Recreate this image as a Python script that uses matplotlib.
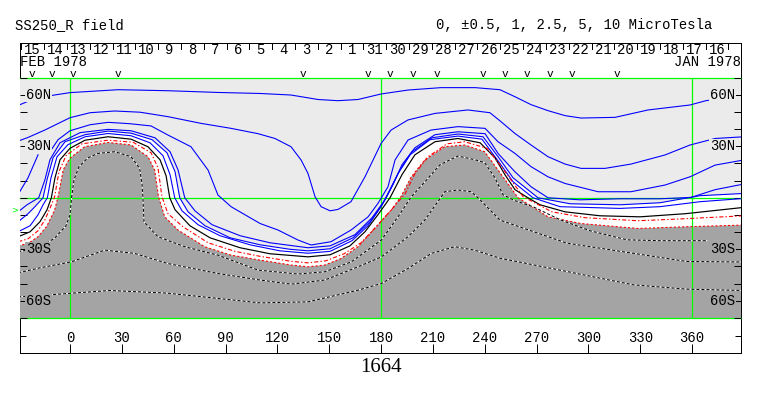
import numpy as np
import matplotlib
matplotlib.use("Agg")
import matplotlib.pyplot as plt
from matplotlib.transforms import blended_transform_factory as btf

plt.rcParams['lines.scale_dashes'] = False

# ---------------- data ----------------
title_left = "SS250_R field"
title_right = "0, \u00b10.5, 1, 2.5, 5, 10 MicroTesla"
rotation = "1664"
lon_ticks = [0, 30, 60, 90, 120, 150, 180, 210, 240, 270, 300, 330, 360]
lat_ticks = list(range(-70, 71, 10))
lat_labels = {60: "60N", 30: "30N", -30: "30S", -60: "60S"}
day_labels = [16, 17, 18, 19, 20, 21, 22, 23, 24, 25, 26, 27, 28, 29, 30, 31,
              1, 2, 3, 4, 5, 6, 7, 8, 9, 10, 11, 12, 13, 14, 15]
day_centres = [374.4, 361.2, 348.0, 334.8, 321.6, 308.4, 295.2, 282.0, 268.8,
               255.6, 242.4, 229.2, 216.0, 202.8, 189.6, 176.4, 163.2, 150.0,
               136.8, 123.6, 110.4, 97.2, 84.0, 70.8, 57.6, 44.4, 31.2, 18.0,
               4.8, -8.4, -21.6]
obs_marks = [-22.2, -10.6, 1.9, 28.0, 135.0, 172.6, 185.2, 198.5, 212.2,
             239.2, 251.7, 264.3, 277.8, 290.3, 316.4]
earth_lat = -7
green_lons = [0, 180, 360]
green_lats = [70, 0, -70]

line1 = [(-28.9, 54.2), (-24.9, 55.9), (-11.6, 59.4), (0, 61.2), (27.8, 62.9), (56.7, 62.3),
         (85.6, 61.3), (110, 60.7), (127.9, 59.8), (143.5, 57.2), (155.1, 56.5), (166.7, 57.2),
         (180, 60.4), (195.6, 62.7), (214.7, 64.1), (234.4, 64.1), (248.8, 62.9), (257.5, 58.8),
         (266.8, 54.2), (276.6, 50.7), (286.5, 47.8), (295.7, 46.4), (315.4, 46.8), (334.5, 51.1),
         (358.8, 54.0), (368, 56.5), (372, 57.1)]
line2 = [(-30, 33.0), (-24.3, 35.1), (-14.6, 39.4), (0, 46.6), (11.6, 49.5), (25.9, 50.5),
         (40.5, 49.8), (56.7, 47.2), (75.8, 43.3), (93.2, 40.4), (108.8, 37.3), (118.6, 34.5),
         (127.9, 29.7), (133.7, 22.0), (137.7, 14.2), (141.8, 0.6), (145.3, -5.2), (150.5, -7.6),
         (155.1, -6.8), (162.6, -2.3), (170.7, 12.2), (180, 31.6), (185.8, 39.4), (195.6, 45.3),
         (211.2, 49.1), (230.3, 51.1), (243, 49.5), (248.8, 44.8), (257.5, 37.4), (266.8, 30.7),
         (276.6, 23.9), (286.5, 19.6), (295.7, 17.1), (309.6, 17.1), (324.6, 19.6), (344.3, 24.9),
         (358.8, 30.7), (373.3, 34.5), (390, 35.5)]
line3a = [(-30, 2.0), (-24.3, 11.6), (-18.5, 25.0)]
line3 = [(-11.6, 26.8), (-6.9, 33.8), (0, 39.0), (11.6, 42.5), (22, 43.9), (34.7, 43.1),
         (46.9, 41.8), (56.7, 36.5), (70, 29.7), (79.9, 16.1), (85.6, 1.6), (93.2, -5.2),
         (110, -15.0), (120.4, -18.8), (131.9, -24.6), (139.5, -27.5), (151, -25.6), (162.6, -18.8),
         (172.5, -11.1), (178.2, -3.3), (184, 6.4), (188.1, 22.0), (195.6, 33.6), (208.9, 39.4),
         (224.5, 41.4), (240.2, 40.4), (247.7, 32.6), (257.5, 25.8), (266.8, 18.1), (276.6, 12.2),
         (286.5, 8.3), (305.6, 3.5), (324.6, 3.5), (344.3, 7.4), (358.8, 12.2), (373.3, 19.0),
         (390, 22.0)]
line4 = [(-30, -8.2), (-24.9, -4.1), (-18.1, 0), (-14.5, 10.5), (-11.6, 22.1), (-5.8, 32.0),
         (5.8, 37.9), (22.0, 39.8), (35.3, 39.0), (49.2, 34.9), (57.9, 26.8), (62.5, 16.3),
         (66.4, 0), (72.3, -7.6), (82.2, -15.7), (98.4, -22.1), (115.7, -26.2), (137.7, -29.1),
         (150.5, -28.0), (164.9, -21.5), (174.8, -11.6), (182.3, -1.2), (186.9, 7.6), (192.1, 19.2),
         (199.6, 29.1), (211.2, 36.7), (224.5, 38.4), (240.2, 37.3), (247.7, 25.8), (257.5, 15.1),
         (266.8, 6.4), (276.6, 0), (295.1, -1.2), (318.3, -0.6), (341.4, -0.6), (359.4, 0.2),
         (373.3, 4.7), (390, 8.0)]
line5 = [(-30, -14.0), (-24.3, -9.3), (-20.3, -5.2), (-15.6, 0), (-13.3, 10.5), (-9.8, 23.3),
         (-2.9, 32.6), (8.7, 36.7), (22.0, 38.8), (35.3, 37.6), (47.5, 33.8), (56.1, 26.2),
         (60.8, 15.1), (63.5, 0), (68.3, -8.2), (78.1, -16.3), (92.6, -23.3), (110, -27.4),
         (127.3, -30.0), (137.7, -30.9), (150.5, -29.7), (163.8, -23.3), (173.6, -14.0),
         (180.6, -4.1), (185.2, 4.7), (191.0, 16.3), (197.9, 26.8), (209.5, 34.9), (224.5, 37.1),
         (239.0, 35.5), (247.7, 23.9), (256.4, 11.6), (270.8, 0), (289.4, -3.5), (318.3, -4.1),
         (341.4, -2.9), (364.6, 1.2), (390, 2.5)]
line6 = [(-30, -19.8), (-23.1, -16.3), (-18.5, -9.9), (-15.6, -4.1), (-13.1, 0), (-11.0, 11.6),
         (-7.5, 23.9), (-1.2, 30.9), (8.7, 35.5), (22.0, 37.4), (35.3, 36.1), (46.3, 32.0),
         (53.8, 24.5), (57.9, 13.4), (60.6, 0), (64.8, -7.6), (74.1, -15.7), (86.8, -22.1),
         (104.2, -27.4), (121.5, -30.9), (137.7, -32.3), (150.5, -31.2), (163.2, -25.0),
         (172.5, -16.3), (180.0, -5.2), (182.9, 0), (189.8, 14.0), (196.8, 25.0), (208.3, 33.8),
         (224.5, 35.9), (238.4, 34.1), (247.7, 21.5), (256.4, 9.3), (267.9, 0), (283.6, -5.2),
         (318.3, -6.2), (341.4, -5.2), (364.6, -2.3), (390, -0.4)]
neutral = [(-30, -22.7), (-23.1, -19.8), (-17.4, -14.0), (-13.3, -7.0), (-10.8, 0), (-8.7, 11.6),
           (-5.8, 22.1), (0, 28.8), (8.7, 33.5), (22.0, 35.5), (35.3, 34.1), (45.1, 29.7),
           (52.1, 22.1), (55.6, 12.8), (57.7, 0), (60.8, -7.0), (69.4, -16.3), (81.0, -23.3),
           (98.4, -29.1), (115.7, -32.6), (137.7, -34.4), (150.5, -33.2), (162.0, -28.0),
           (170.7, -19.8), (178.2, -9.9), (185.2, 0), (192.1, 13.4), (199.6, 25.0), (211.2, 32.6),
           (224.5, 34.5), (237.3, 32.0), (245.9, 23.3), (251.7, 13.4), (257.5, 4.7), (265.0, 0),
           (272.0, -4.1), (286.5, -8.2), (306.7, -10.5), (329.9, -11.1), (355.9, -9.3),
           (390, -5.6)]
neg_half = [(-30, -25.6), (-24.3, -23.9), (-18.5, -19.2), (-14.5, -12.8), (-11.0, -4.7),
            (-8.9, 0.6), (-6.4, 15.1), (-2.3, 24.5), (6.9, 31.4), (22.0, 33.5), (36.5, 32.3),
            (46.9, 26.2), (50.9, 17.5), (53.2, 0.6), (56.7, -9.3), (65.4, -16.9), (79.9, -26.2),
            (95.5, -31.2), (110, -34.1), (127.9, -37.0), (137.7, -37.9), (148.1, -36.7),
            (158.6, -32.6), (168.4, -26.2), (177.7, -16.3), (187.5, -5.2), (193.9, 2.3),
            (199.6, 14.0), (207.2, 23.9), (218.2, 31.4), (228.4, 32.6), (241.3, 28.8),
            (249.9, 17.8), (262.2, 0.6), (278.9, -8.2), (298.0, -11.6), (328.7, -13.4),
            (355.9, -12.2), (390, -10.5)]
neg_one = [(-30, -28.0), (-24.3, -26.6), (-18.5, -22.7), (-13.5, -16.7), (-8.9, -7.2),
           (-6.9, 0.6), (-3.9, 16.3), (0, 23.1), (8.5, 29.7), (22.0, 32.2), (35.3, 30.7),
           (45.1, 23.9), (49.0, 16.1), (51.2, 0.6), (54.8, -11.1), (62.5, -18.8), (77.9, -28.5),
           (93.2, -33.4), (110, -36.3), (128.1, -39.2), (137.7, -40.2), (147.4, -39.2),
           (156.8, -35.4), (166.7, -28.5), (176.3, -17.9), (185.9, -7.2), (191.5, 0.6),
           (197.5, 12.2), (205.3, 22.0), (216.8, 29.7), (228.4, 30.7), (240.0, 26.8),
           (247.7, 16.1), (259.3, 0), (276.6, -11.1), (295.7, -15.0), (328.7, -17.9),
           (355.9, -16.9), (390, -15.9)]
neg_a = [(-30, -31.4), (-17.4, -29.1), (-8.7, -23.3), (-2.3, -16.3), (0, -9.9), (0.9, 0),
         (2.3, 10.5), (5.2, 18.1), (10.4, 23.3), (16.2, 25.8), (25.9, 26.8), (35.3, 23.9),
         (40.3, 17.1), (41.7, 7.6), (42.2, 0), (42.8, -14.0), (50.9, -22.7), (66.4, -28.5),
         (85.6, -33.4), (108.8, -42.1), (131.9, -44.4), (147.4, -43.1), (162.8, -37.3),
         (180.2, -24.6), (189.8, -11.1), (197.5, 0.6), (205.4, 9.3), (214.1, 19.2), (224.5, 24.3),
         (234.4, 22.1), (240.0, 20.4), (245.9, 11.6), (250.6, 1.7), (257.5, -1.7), (267.9, -5.2),
         (283.6, -12.8), (300.9, -19.2), (322.3, -24.5), (341.4, -25.0), (368.5, -25.0)]
neg_b = [(-30, -43.7), (-17.4, -40.8), (0.8, -37.3), (20.1, -30.5), (37.4, -32.4), (56.7, -38.3),
         (85.6, -44.1), (110, -47.9), (128.1, -50.3), (147.4, -47.9), (166.7, -40.2),
         (180.2, -34.4), (195.6, -22.7), (205.3, -13.0), (214.9, 0.6), (216.8, 3.5), (224.5, 4.5),
         (232.2, 3.5), (237.3, -1.2), (248.8, -13.0), (287.4, -26.4), (356.9, -37.1),
         (390, -37.4)]
neg_c = [(-30, -57.7), (-11.6, -56.5), (1.9, -55.5), (23.1, -54.0), (56.0, -55.5), (85.6, -58.6),
         (110, -61.2), (137.7, -60.6), (166.7, -53.8), (180.2, -49.9), (195.6, -41.2),
         (209.1, -32.4), (222.6, -28.5), (234.2, -30.5), (248.8, -35.2), (287.4, -42.9),
         (326.0, -50.7), (356.9, -53.2), (390, -54.0)]

# ---------------- colours / styles ----------------
BG_POS = "#ebebeb"
BG_NEG = "#a4a4a4"
BLUE = "#0000ff"
RED = "#ff0000"
GREEN = "#00ff00"
MONO = "Liberation Mono"
PX = 0.72

W, H = 763, 396
fig = plt.figure(figsize=(W / 100, H / 100), dpi=100)
fig.patch.set_facecolor("white")

xl = (-28.94, 388.3)
fa = fig.add_axes([20 / W, (H - 353) / H, 721 / W, 310 / H])
fa.set_xlim(*xl)
fa.set_ylim(0, 1)
fa.set_facecolor("white")
for s in fa.spines.values():
    s.set_linewidth(PX)
    s.set_color("black")
fa.set_xticks(lon_ticks)
fa.set_xticklabels([])
fa.tick_params(axis="x", direction="in", length=9 * PX, width=PX, bottom=True, top=False)
fa.set_yticks([(353 - 336) / 310])
fa.set_yticklabels([])
fa.tick_params(axis="y", direction="in", length=6 * PX, width=PX, left=True, right=True)

tb = btf(fa.transData, fa.transAxes)
for lo in lon_ticks:
    fa.text(lo, (353 - 338) / 310, str(lo), transform=tb, ha="center", va="center",
            fontsize=10, family=MONO)
fa.text(180, (353 - 367) / 310, rotation, transform=tb, ha="center", va="center",
        fontsize=15, family="Liberation Serif")

# top date strip
bounds = [c + 6.6 for c in day_centres] + [day_centres[-1] - 6.6]
for b in bounds:
    if xl[0] < b < xl[1]:
        fa.plot([b, b], [1.0, 1 - 6 / 310], transform=tb, color="black", lw=PX, clip_on=False)
for c, d in zip(day_centres, day_labels):
    fa.text(c, (353 - 49.5) / 310, str(d), transform=tb, ha="center", va="center",
            fontsize=10, family=MONO)
fa.text(0.0, (353 - 62.5) / 310, "FEB 1978", transform=fa.transAxes, ha="left", va="center",
        fontsize=10, family=MONO)
fa.text(1.0, (353 - 62.5) / 310, "JAN 1978", transform=fa.transAxes, ha="right", va="center",
        fontsize=10, family=MONO)
for m in obs_marks:
    fa.text(m, (353 - 74) / 310, "v", transform=tb, ha="center", va="center",
            fontsize=8, family=MONO)

fig.text(15 / W, (H - 25) / H, title_left, ha="left", va="center", fontsize=10, family=MONO)
fig.text(712 / W, (H - 25) / H, title_right, ha="right", va="center", fontsize=10, family=MONO)

# ---------------- main map ----------------
ax = fig.add_axes([20 / W, (H - 318) / H, 721 / W, 240.5 / H])
ax.set_xlim(*xl)
ax.set_ylim(-70, 70)
ax.set_facecolor(BG_POS)
for s in ax.spines.values():
    s.set_visible(False)
ax.set_xticks([])
ax.set_yticks(lat_ticks)
ax.set_yticklabels([])
ax.tick_params(axis="y", direction="in", length=7 * PX, width=PX, left=True, right=True)


def arr(p):
    return np.array(p, dtype=float)


n1 = arr(neg_one)
top = arr(line5)
wx = np.concatenate([top[:, 0], n1[::-1, 0]])
wy = np.concatenate([top[:, 1], n1[::-1, 1]])
ax.fill(wx, wy, color="white", lw=0, zorder=0.5)
gx = np.concatenate([n1[:, 0], [390, -30]])
gy = np.concatenate([n1[:, 1], [-80, -80]])
ax.fill(gx, gy, color=BG_NEG, lw=0, zorder=0.6)

for lo in green_lons:
    ax.axvline(lo, color=GREEN, lw=PX * 1.25, zorder=1)
for la in green_lats:
    ax.axhline(la, color=GREEN, lw=PX * 1.25, zorder=1, clip_on=False)

for ln in [line1, line2, line3a, line3, line4, line5, line6]:
    a = arr(ln)
    ax.plot(a[:, 0], a[:, 1], color=BLUE, lw=PX * 1.1, zorder=2)
a = arr(neutral)
ax.plot(a[:, 0], a[:, 1], color="black", lw=PX * 1.2, zorder=2)
a = arr(neg_half)
ax.plot(a[:, 0], a[:, 1], color=RED, lw=PX * 1.1, ls=(0, (3, 1.5, 1, 1.5)), zorder=2)
ax.plot(n1[:, 0], n1[:, 1], color=RED, lw=PX * 1.1, ls=(0, (1.5, 1.5)), zorder=2)
for ln in [neg_a, neg_b, neg_c]:
    a = arr(ln)
    ax.plot(a[:, 0], a[:, 1], color="white", lw=PX, zorder=2)
    ax.plot(a[:, 0], a[:, 1], color="black", lw=PX, ls=(0, (2.2, 1.4)), zorder=2.1)

# latitude labels
for la, txt in lat_labels.items():
    fc = BG_POS if la > 0 else BG_NEG
    ax.annotate(txt, xy=(0, la), xycoords=("axes fraction", "data"), xytext=(6 * PX, 0),
                textcoords="offset points", ha="left", va="center", fontsize=10, family=MONO,
                bbox=dict(boxstyle="square,pad=0.05", fc=fc, ec="none"), zorder=5)
    ax.annotate(txt, xy=(1, la), xycoords=("axes fraction", "data"), xytext=(-6 * PX, 0),
                textcoords="offset points", ha="right", va="center", fontsize=10, family=MONO,
                bbox=dict(boxstyle="square,pad=0.05", fc=fc, ec="none"), zorder=5)

ax.annotate(">", xy=(0, earth_lat), xycoords=("axes fraction", "data"), xytext=(-1, 0),
            textcoords="offset points", ha="right", va="center", fontsize=6, color=GREEN,
            annotation_clip=False)

fig.savefig("out.png", dpi=100)
